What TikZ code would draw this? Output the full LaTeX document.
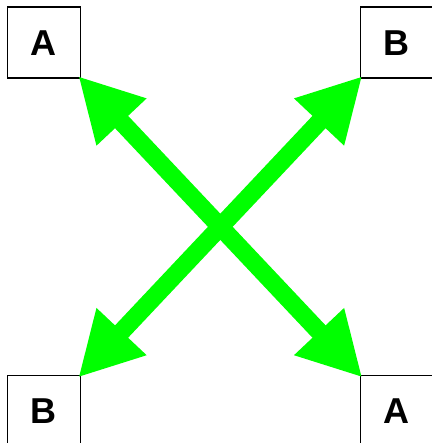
\documentclass[tikz,border=0pt]{standalone}
\usepackage{fontspec}
\setmainfont{Liberation Sans}
\usetikzlibrary{arrows.meta}

\begin{document}
\begin{tikzpicture}[x=1pt,y=-1pt,font=\fontsize{36}{40}\selectfont\bfseries]
  \tikzset{
    letterbox/.style={draw,line width=1.6pt,fill=white,minimum width=73pt,minimum height=71pt,inner sep=0pt,anchor=north west},
    link/.style={draw={rgb,255:red,0;green,255;blue,0},line width=18pt,{Triangle[length=63pt,width=64pt]}-{Triangle[length=63pt,width=64pt]},fill={rgb,255:red,0;green,255;blue,0},shorten <=-4pt,shorten >=-4pt}
  }
  \useasboundingbox (0,0) rectangle (431,443);
  \node[letterbox] (topA) at (6.5,6.5) {A};
  \node[letterbox] (topB) at (359.5,6.5) {B};
  \node[letterbox] (botB) at (6.5,374.5) {B};
  \node[letterbox] (botA) at (359.5,374.5) {A};
  \draw[link] (topA.south east) -- (botA.north west);
  \draw[link] (topB.south west) -- (botB.north east);
\end{tikzpicture}
\end{document}
